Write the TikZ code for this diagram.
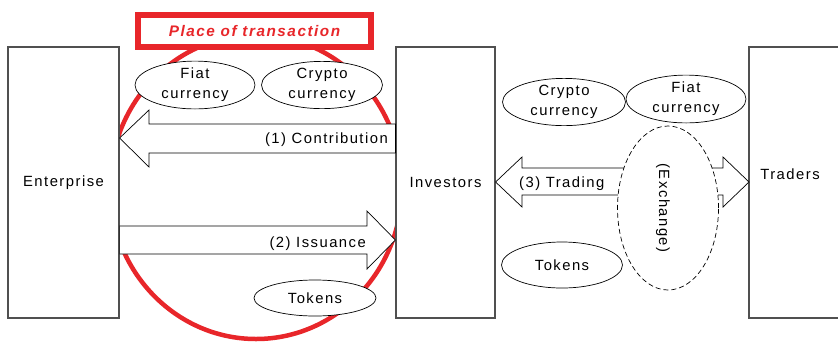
\documentclass[tikz,border=0pt]{standalone}
\usepackage{fontspec}
\setmainfont{Liberation Sans}[LetterSpace=10]
\usetikzlibrary{shapes.geometric}
\definecolor{redline}{HTML}{E8262A}
\definecolor{boxline}{HTML}{505050}
\tikzset{
  txt/.style={font=\fontsize{14.8}{20}\selectfont, inner sep=0pt},
  lbl/.style={txt, yshift=-1.5pt},
  bigbox/.style={draw=boxline, line width=1.2pt, fill=white, minimum width=#1, minimum height=271pt, inner sep=0pt, txt},
  oval/.style={ellipse, draw=black, line width=0.7pt, fill=white, inner sep=0pt, align=center, txt},
  blockarrow/.style={draw=black, line width=0.7pt, fill=white, line join=miter},
  placebox/.style={draw=redline, line width=6pt, fill=white, minimum width=233pt, minimum height=32pt, inner sep=0pt,
     text=redline, font=\fontsize{15.3}{16}\selectfont\bfseries\itshape},
}
\begin{document}
\begin{tikzpicture}[x=1pt,y=-1pt]
\useasboundingbox (0,0) rectangle (838,341);
% place of transaction ellipse
\draw[redline, line width=4.5pt] (256,187) ellipse [x radius=146, y radius=152];
% big boxes
\node[bigbox=111pt] (ent) at (63.5,182.5) {Enterprise};
\node[bigbox=99pt] (inv) at (445.5,182.5) {Investors};
\draw[boxline, line width=1.2pt, fill=white] (845,47) -- (749,47) -- (749,318) -- (845,318);
\node[lbl] (trd) at (790,173) {Traders};
% (1) contribution
\filldraw[blockarrow] (inv.west |- 0,124) -- (149,124) -- (149,110) -- (ent.east |- 0,138) -- (149,167) -- (149,153) -- (inv.west |- 0,153) -- cycle;
\node[lbl, anchor=east] (c1) at (388,138) {(1) Contribution};
% (2) issuance
\filldraw[blockarrow] (ent.east |- 0,226) -- (367,226) -- (367,211) -- (inv.west |- 0,240) -- (367,269) -- (367,254) -- (ent.east |- 0,254) -- cycle;
\node[lbl, anchor=east] (c2) at (366,242) {(2) Issuance};
% (3) trading
\filldraw[blockarrow] (inv.east |- 0,182) -- (522,157) -- (522,168) -- (723,168) -- (723,157) -- (749,182) -- (723,207) -- (723,195) -- (522,195) -- (522,207) -- cycle;
\node[lbl, anchor=west] (c3) at (519,182) {(3) Trading};
% exchange
\node[ellipse, draw=black, dashed, dash pattern=on 5pt off 3pt, line width=0.7pt, fill=white, minimum width=101pt, minimum height=164pt, inner sep=0pt] (exch) at (668,208) {};
\node[txt, rotate=-90] (exl) at (663,208) {(Exchange)};
% ovals
\node[oval, minimum width=120pt, minimum height=44pt] (fiatL) at (195,85) {Fiat\\currency};
\node[oval, minimum width=121pt, minimum height=44pt] (cryL) at (322,85) {Crypto\\currency};
\node[oval, minimum width=122pt, minimum height=36pt] (tokL) at (315,298) {Tokens};
\node[oval, minimum width=123pt, minimum height=40pt] (cryR) at (564,102) {Crypto\\currency};
\node[oval, minimum width=120pt, minimum height=42pt] (fiatR) at (686,99) {Fiat\\currency};
\node[oval, minimum width=121pt, minimum height=46pt] (tokR) at (562,265) {Tokens};
% label box
\node[placebox] (place) at (254.5,31) {Place of transaction};
\end{tikzpicture}
\end{document}
